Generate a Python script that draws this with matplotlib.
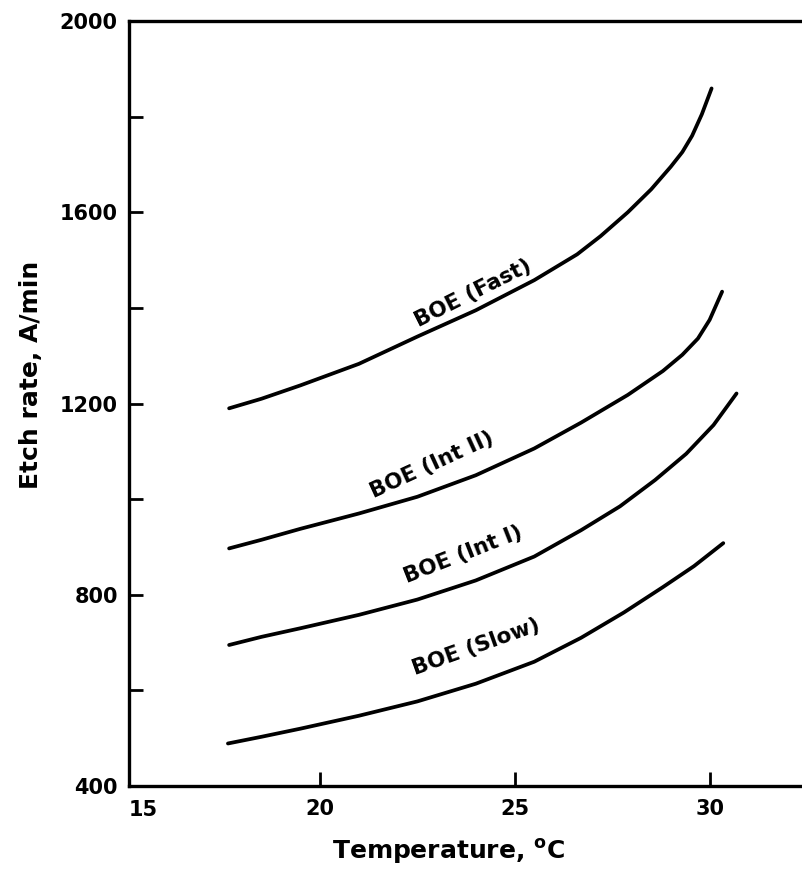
import matplotlib
matplotlib.use("Agg")
import matplotlib.pyplot as plt
import matplotlib.transforms as mtransforms

plt.rcParams['font.family'] = ['DejaVu Sans']
plt.rcParams['font.weight'] = 'bold'
plt.rcParams['mathtext.fontset'] = 'dejavusans'

# values (temperature in C, etch rate in A/min)
temp_fast = [17.67, 18.5, 19.5, 21.0, 22.5, 24.0, 25.5, 26.6, 27.2, 27.9, 28.5, 29.0, 29.3, 29.55, 29.8, 30.05]
etch_fast = [1190, 1210, 1238, 1283, 1340, 1395, 1458, 1512, 1550, 1600, 1648, 1695, 1726, 1760, 1805, 1859]

temp_int2 = [17.67, 18.5, 19.5, 21.0, 22.5, 24.0, 25.5, 26.7, 27.9, 28.8, 29.3, 29.7, 30.0, 30.32]
etch_int2 = [897, 915, 938, 970, 1005, 1050, 1106, 1160, 1218, 1268, 1302, 1336, 1375, 1434]

temp_int1 = [17.67, 18.5, 19.5, 21.0, 22.5, 24.0, 25.5, 26.7, 27.7, 28.6, 29.4, 30.1, 30.69]
etch_int1 = [695, 712, 730, 758, 790, 830, 880, 935, 985, 1040, 1095, 1155, 1221]

temp_slow = [17.64, 18.5, 19.5, 21.0, 22.5, 24.0, 25.5, 26.7, 27.8, 28.8, 29.6, 30.35]
etch_slow = [489, 503, 520, 547, 577, 614, 660, 710, 763, 816, 860, 908]

curve_names = ['BOE (Fast)', 'BOE (Int II)', 'BOE (Int I)', 'BOE (Slow)']
label_x = [23.93, 22.87, 23.68, 24.02]
label_y = [1430, 1072, 885, 690]
label_rot = [26.6, 24.7, 21.5, 19.6]

x_major = [20, 25, 30]
y_major = [400, 800, 1200, 1600, 2000]
y_minor = [600, 1000, 1400, 1800]

fig = plt.figure(figsize=(8.02, 8.76), dpi=100)
ax = fig.add_axes([0.1608, 0.1027, 0.8392, 0.8733])

for tx, ey in [(temp_fast, etch_fast), (temp_int2, etch_int2),
               (temp_int1, etch_int1), (temp_slow, etch_slow)]:
    ax.plot(tx, ey, color='black', lw=2.7, solid_capstyle='round',
            solid_joinstyle='round')

for name, lx, ly, rot in zip(curve_names, label_x, label_y, label_rot):
    ax.text(lx, ly, name, rotation=rot, rotation_mode='anchor',
            ha='center', va='center', fontsize=15.5, fontweight='bold')

ax.set_xlim(15.1, 32.37)
ax.set_ylim(400, 2000)
ax.set_xticks(x_major)
ax.set_yticks(y_major)
ax.set_yticks(y_minor, minor=True)
ax.tick_params(axis='both', which='both', direction='in', width=2,
               length=10, labelsize=15)
ax.tick_params(axis='x', pad=9)
ax.tick_params(axis='y', pad=8)
for lab in ax.get_xticklabels() + ax.get_yticklabels():
    lab.set_fontweight('bold')

# the "15" sits at the corner, next to the spine
trans = mtransforms.blended_transform_factory(ax.transData, ax.transAxes)
ax.text(15.1, -0.0315, '15', transform=trans, ha='left', va='center',
        fontsize=15, fontweight='bold')

for side in ['left', 'top', 'bottom']:
    ax.spines[side].set_linewidth(2.4)
ax.spines['right'].set_visible(False)

ax.set_xlabel(r'Temperature, $^{\mathbf{o}}$C', fontsize=18, fontweight='bold')
ax.xaxis.set_label_coords(0.475, -0.066)
ax.set_ylabel('Etch rate, A/min', fontsize=18, fontweight='bold')
ax.yaxis.set_label_coords(-0.128, 0.537)

fig.savefig('out.png', dpi=100)
